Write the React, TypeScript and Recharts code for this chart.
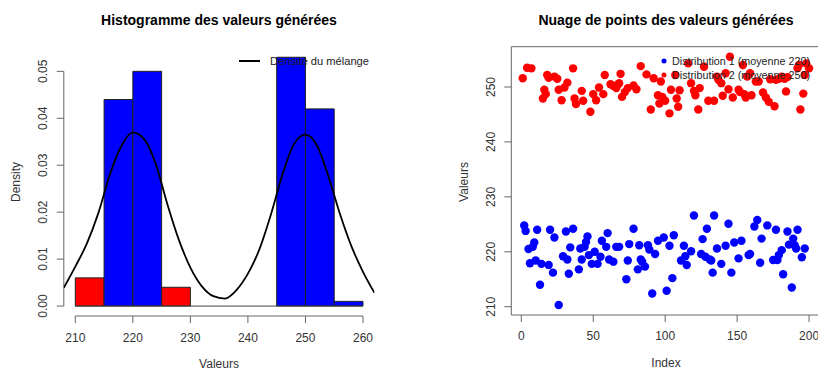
import { ComposedChart, ScatterChart, Scatter, Line, XAxis, YAxis, ReferenceArea, ReferenceLine } from 'recharts'

// histogram bins (density) and their fill colours
const binEdges = [210, 215, 220, 225, 230, 235, 240, 245, 250, 255, 260]
const binDensity = [0.006, 0.044, 0.05, 0.004, 0, 0, 0, 0.053, 0.042, 0.001]
const binColors = ['#ff0000', '#0000ff', '#0000ff', '#ff0000', '#0000ff', '#0000ff', '#0000ff', '#0000ff', '#0000ff', '#0000ff']

// mixture density curve
const curveX = [208, 210, 212, 214, 216, 218, 220, 222, 224, 226, 228, 230, 232, 234, 236, 238, 240, 242, 244, 246, 248, 250, 252, 254, 256, 258, 260, 262]
const curveY = [0.0039, 0.0084, 0.0133, 0.0198, 0.028, 0.0341, 0.037, 0.0355, 0.0302, 0.0217, 0.0141, 0.0082, 0.0042, 0.0021, 0.0016, 0.0034, 0.0069, 0.0121, 0.0195, 0.028, 0.0345, 0.0365, 0.0342, 0.0276, 0.0196, 0.0127, 0.0073, 0.0028]

// scatter: distribution 1 (blue)
const blueIdx = [2, 3, 5, 6, 8, 9, 10, 11, 13, 14, 19, 20, 22, 23, 26, 29, 31, 32, 33, 34, 36, 40, 41, 42, 44, 45, 46, 47, 49, 51, 53, 55, 56, 59, 60, 61, 64, 66, 68, 73, 74, 75, 78, 81, 82, 83, 84, 86, 88, 89, 91, 93, 95, 99, 101, 103, 105, 106, 111, 113, 114, 115, 118, 120, 125, 126, 128, 129, 131, 132, 133, 134, 136, 139, 142, 144, 146, 148, 151, 153, 158, 159, 162, 164, 166, 167, 171, 175, 177, 178, 179, 181, 182, 185, 186, 188, 189, 190, 191, 192, 195, 197]
const blueVal = [224.8, 223.8, 220.5, 217.9, 220.9, 221.7, 218.4, 224.0, 214.0, 217.8, 217.6, 224.0, 216.2, 222.6, 210.3, 219.2, 223.7, 218.6, 216.0, 220.8, 224.2, 216.8, 220.6, 218.6, 220.9, 221.8, 222.8, 219.4, 217.8, 220.0, 217.8, 219.1, 222.0, 220.9, 223.4, 218.6, 218.2, 220.9, 220.9, 215.0, 218.4, 221.4, 224.2, 216.8, 221.2, 218.6, 218.2, 217.3, 221.2, 220.4, 212.4, 219.6, 222.0, 222.6, 212.9, 221.1, 215.2, 223.0, 218.4, 221.1, 219.2, 217.6, 220.1, 226.6, 219.6, 222.3, 219.1, 224.2, 218.6, 218.4, 216.2, 226.6, 220.6, 217.8, 221.1, 225.1, 216.2, 221.7, 218.8, 222.0, 219.4, 219.6, 224.6, 225.8, 218.0, 222.4, 224.8, 218.5, 224.0, 218.5, 219.4, 220.3, 215.9, 223.7, 221.3, 213.5, 222.4, 221.2, 220.6, 224.0, 219.0, 220.6]

// scatter: distribution 2 (red)
const redIdx = [1, 4, 7, 15, 16, 17, 18, 19, 23, 25, 26, 28, 30, 32, 36, 37, 38, 42, 43, 48, 50, 52, 54, 57, 58, 62, 64, 66, 67, 68, 69, 70, 72, 74, 78, 80, 83, 87, 90, 92, 95, 96, 97, 98, 100, 103, 104, 107, 108, 109, 110, 116, 118, 120, 121, 123, 124, 127, 130, 134, 136, 137, 139, 140, 142, 144, 145, 147, 151, 152, 154, 155, 156, 157, 159, 160, 163, 165, 168, 170, 172, 173, 176, 177, 179, 181, 183, 184, 185, 192, 193, 194, 196, 197, 198, 200]
const redVal = [251.6, 253.5, 253.4, 247.9, 249.5, 248.7, 252.2, 251.7, 251.9, 251.5, 249.5, 247.6, 249.9, 250.8, 253.4, 247.9, 246.9, 249.3, 247.5, 245.5, 248.7, 247.6, 249.9, 248.7, 252.2, 250.5, 250.2, 249.8, 250.4, 250.7, 252.4, 248.2, 249.1, 249.8, 250.3, 249.6, 253.8, 252.3, 245.9, 251.6, 248.5, 247.0, 251.0, 248.2, 247.5, 245.2, 249.5, 252.2, 247.9, 246.4, 249.4, 254.3, 250.7, 249.3, 248.5, 245.9, 249.8, 253.7, 247.5, 247.5, 251.9, 251.3, 250.7, 248.4, 252.5, 249.6, 255.5, 248.1, 249.5, 249.1, 254.0, 248.7, 248.1, 251.9, 252.5, 248.5, 251.0, 251.0, 249.0, 248.1, 247.3, 251.4, 246.5, 251.3, 251.5, 251.9, 251.5, 249.2, 251.8, 253.4, 254.0, 245.9, 248.8, 252.2, 254.3, 253.4]

const histTicks = [210, 220, 230, 240, 250, 260]
const densTicks = [0, 0.01, 0.02, 0.03, 0.04, 0.05]
const idxTicks = [0, 50, 100, 150, 200]
const valTicks = [210, 220, 230, 240, 250]

const FONT = '"Liberation Sans", Arial, sans-serif'
const AXIS = '#666'
const TXT = '#333'

const curveData = curveX.map((x, i) => ({ x, d: curveY[i] }))
const blueData = blueIdx.map((i, k) => ({ i, v: blueVal[k] }))
const redData = redIdx.map((i, k) => ({ i, v: redVal[k] }))

const H_X: [number, number] = [208, 262]
const H_Y: [number, number] = [-0.00212, 0.05512]
const S_X: [number, number] = [-6.96, 207.96]
const S_Y: [number, number] = [208.49, 257.34]

function xTick(fmt: (v: number) => string, dy: number) {
    return (props: any) => {
        const { x, y, payload } = props
        return (
            <g>
                <line x1={x} y1={y} x2={x} y2={y + 7} stroke={AXIS} />
                <text x={x} y={y + dy} textAnchor="middle" dominantBaseline="central"
                    fontSize={12} fontFamily={FONT} fill={TXT}>
                    {fmt(payload.value)}
                </text>
            </g>
        )
    }
}

function yTick(fmt: (v: number) => string, dx: number) {
    return (props: any) => {
        const { x, y, payload } = props
        return (
            <g>
                <line x1={x} y1={y} x2={x - 7} y2={y} stroke={AXIS} />
                <text x={x - dx} y={y} textAnchor="middle" dominantBaseline="central"
                    transform={`rotate(-90 ${x - dx} ${y})`}
                    fontSize={12} fontFamily={FONT} fill={TXT}>
                    {fmt(payload.value)}
                </text>
            </g>
        )
    }
}

const dot = (color: string) => (props: any) => (
    <circle cx={props.cx} cy={props.cy} r={4.2} fill={color} />
)

function Histogram() {
    return (
        <ComposedChart width={409} height={373} data={curveData}
            margin={{ top: 47.3, right: 34.5, bottom: 27, left: 23.8 }}>
            <XAxis dataKey="x" type="number" domain={H_X} ticks={histTicks} interval={0}
                allowDataOverflow height={30} tickSize={0} tickMargin={0} axisLine={false}
                tickLine={false} tick={xTick(v => String(v), 21.7)} />
            <YAxis type="number" domain={H_Y} ticks={densTicks} interval={0}
                allowDataOverflow width={40} tickSize={0} tickMargin={0} axisLine={false}
                tickLine={false} tick={yTick(v => v.toFixed(2), 20.5)} />
            {binDensity.map((d, i) => d > 0 && (
                <ReferenceArea key={i} x1={binEdges[i]} x2={binEdges[i + 1]} y1={0} y2={d}
                    fill={binColors[i]} fillOpacity={1} stroke="#222" strokeWidth={1} ifOverflow="visible" />
            ))}
            <ReferenceLine segment={[{ x: 210, y: 0 }, { x: 260, y: 0 }]} stroke="#444" ifOverflow="visible" />
            <ReferenceLine segment={[{ x: 210, y: H_Y[0] }, { x: 260, y: H_Y[0] }]} stroke={AXIS} ifOverflow="visible" />
            <ReferenceLine segment={[{ x: H_X[0], y: 0 }, { x: H_X[0], y: 0.05 }]} stroke={AXIS} ifOverflow="visible" />
            <Line dataKey="d" type="monotone" stroke="#000" strokeWidth={1.8} dot={false}
                isAnimationActive={false} />
        </ComposedChart>
    )
}

function PointCloud() {
    return (
        <ScatterChart width={420} height={373}
            margin={{ top: 46.7, right: 8.5, bottom: 28, left: 62.3 }}>
            <XAxis dataKey="i" type="number" domain={S_X} ticks={idxTicks} interval={0}
                allowDataOverflow height={30} tickSize={0} tickMargin={0} axisLine={false}
                tickLine={false} tick={xTick(v => String(v), 21)} />
            <YAxis dataKey="v" type="number" domain={S_Y} ticks={valTicks} interval={0}
                allowDataOverflow width={40} tickSize={0} tickMargin={0} axisLine={false}
                tickLine={false} tick={yTick(v => String(v), 20)} />
            <ReferenceArea x1={S_X[0]} x2={S_X[1]} y1={S_Y[0]} y2={S_Y[1]}
                fill="none" stroke={AXIS} strokeWidth={1} ifOverflow="visible" />
            <Scatter data={blueData} shape={dot('#0000ff')} isAnimationActive={false} />
            <Scatter data={redData} shape={dot('#ff0000')} isAnimationActive={false} />
        </ScatterChart>
    )
}

export default function App() {
    const label = { fontSize: 12, fontFamily: FONT, fill: TXT }
    const legend = { fontSize: 11, fontFamily: FONT, fill: '#222', lengthAdjust: 'spacingAndGlyphs' as const }
    return (
        <div style={{ position: 'absolute', left: 0, top: 0, width: 818, height: 373, overflow: 'hidden', background: '#fff' }}>
            <div style={{ position: 'absolute', left: 0, top: 0 }}>
                <Histogram />
            </div>
            <div style={{ position: 'absolute', left: 409, top: 0 }}>
                <PointCloud />
            </div>
            <svg width={818} height={373} style={{ position: 'absolute', left: 0, top: 0, pointerEvents: 'none' }}>
                <text x={219} y={20} textAnchor="middle" dominantBaseline="central" fontSize={14}
                    fontWeight="bold" fontFamily={FONT} fill="#000">Histogramme des valeurs générées</text>
                <text x={666} y={20} textAnchor="middle" dominantBaseline="central" fontSize={14}
                    fontWeight="bold" fontFamily={FONT} fill="#000">Nuage de points des valeurs générées</text>
                <text x={219} y={364} textAnchor="middle" dominantBaseline="central" {...label}>Valeurs</text>
                <text x={666} y={363} textAnchor="middle" dominantBaseline="central" {...label}>Index</text>
                <text x={16} y={182} textAnchor="middle" dominantBaseline="central"
                    transform="rotate(-90 16 182)" {...label}>Density</text>
                <text x={464} y={182} textAnchor="middle" dominantBaseline="central"
                    transform="rotate(-90 464 182)" {...label}>Valeurs</text>
                <line x1={239} y1={61} x2={260} y2={61} stroke="#000" strokeWidth={2} />
                <text x={270} y={61} dominantBaseline="central" textLength={99} {...legend}>Densité du mélange</text>
                <circle cx={664} cy={61} r={2.5} fill="#0000ff" />
                <text x={672} y={61} dominantBaseline="central" textLength={138} {...legend}>Distribution 1 (moyenne 220)</text>
                <circle cx={664} cy={75} r={2.5} fill="#ff0000" />
                <text x={672} y={75} dominantBaseline="central" textLength={138} {...legend}>Distribution 2 (moyenne 250)</text>
            </svg>
        </div>
    )
}
